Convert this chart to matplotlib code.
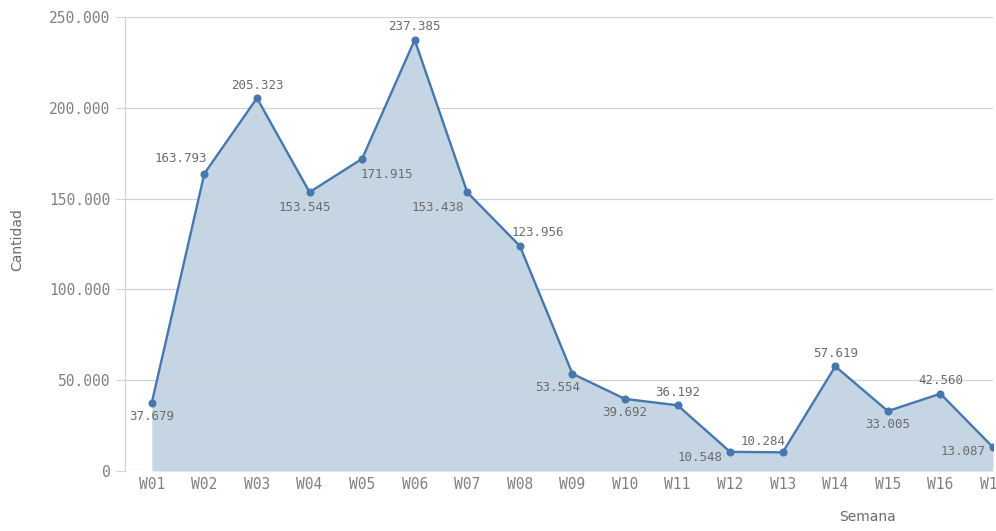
import matplotlib
matplotlib.use('Agg')
import matplotlib.pyplot as plt
from matplotlib.ticker import FuncFormatter

## Chart data.
weeks = ['W01', 'W02', 'W03', 'W04', 'W05', 'W06', 'W07', 'W08', 'W09',
         'W10', 'W11', 'W12', 'W13', 'W14', 'W15', 'W16', 'W17']
cantidad = [37679, 163793, 205323, 153545, 171915, 237385, 153438, 123956,
            53554, 39692, 36192, 10548, 10284, 57619, 33005, 42560, 13087]
y_ticks = [0, 50000, 100000, 150000, 200000, 250000]

## Label offsets in pixels (dx, dy), positive dy is up.
label_offsets = [(0, -14), (-24, 15), (0, 13), (-5, -15), (25, -16), (0, 13),
                 (-29, -15), (18, 13), (-15, -14), (0, -14), (0, 13), (-30, -6),
                 (-20, 11), (0, 13), (0, -13), (0, 13), (-30, -4)]

line_color = '#4677ad'
fill_color = '#c6d5e4'
grid_color = '#d2d2d2'
text_color = '#6b6b6b'
tick_color = '#808080'
mono = 'DejaVu Sans Mono'


def thousands(v, pos):
  return '{:,.0f}'.format(v).replace(',', '.')


def main():
  fig = plt.figure(figsize=(9.96, 5.31), dpi=100)
  ax = fig.add_axes([125 / 996, 60 / 531, (993 - 125) / 996, (471 - 17) / 531])

  x = list(range(len(weeks)))
  ax.fill_between(x, cantidad, 0, color=fill_color, linewidth=0, zorder=1)
  ax.plot(x, cantidad, color=line_color, linewidth=1.7, marker='o',
          markersize=4.8, zorder=3, clip_on=True)

  ## Value labels.
  for i, v in enumerate(cantidad):
    dx, dy = label_offsets[i]
    ax.annotate(thousands(v, None), xy=(i, v),
                xytext=(dx * 0.72, dy * 0.72), textcoords='offset points',
                ha='center', va='center', fontsize=9, family=mono,
                color=text_color, zorder=4, annotation_clip=False)

  ax.set_xlim(-0.51, 15.88)
  ax.set_ylim(0, 250000)
  ax.set_xticks(x)
  ax.set_xticklabels(weeks, family=mono, fontsize=10.5, color=tick_color)
  ax.set_yticks(y_ticks)
  ax.yaxis.set_major_formatter(FuncFormatter(thousands))
  for lbl in ax.get_yticklabels():
    lbl.set_family(mono)
    lbl.set_fontsize(10.5)
    lbl.set_color(tick_color)

  ax.tick_params(axis='y', length=6.5, width=0.8, color=grid_color, pad=4)
  ax.tick_params(axis='x', length=0, pad=4)

  ax.set_axisbelow(False)
  ax.grid(axis='y', color=grid_color, linewidth=0.9, zorder=2)
  for side in ['top', 'right', 'bottom']:
    ax.spines[side].set_visible(False)
  ax.spines['left'].set_color(grid_color)
  ax.spines['left'].set_linewidth(0.9)

  fig.text(17 / 996, 1 - 240 / 531, 'Cantidad', rotation=90, ha='center',
           va='center', fontsize=10, color=text_color)
  fig.text(867 / 996, 1 - 517 / 531, 'Semana', ha='center', va='center',
           fontsize=10, color=text_color)

  fig.savefig('out.png', dpi=100)


if __name__ == '__main__':
  main()
